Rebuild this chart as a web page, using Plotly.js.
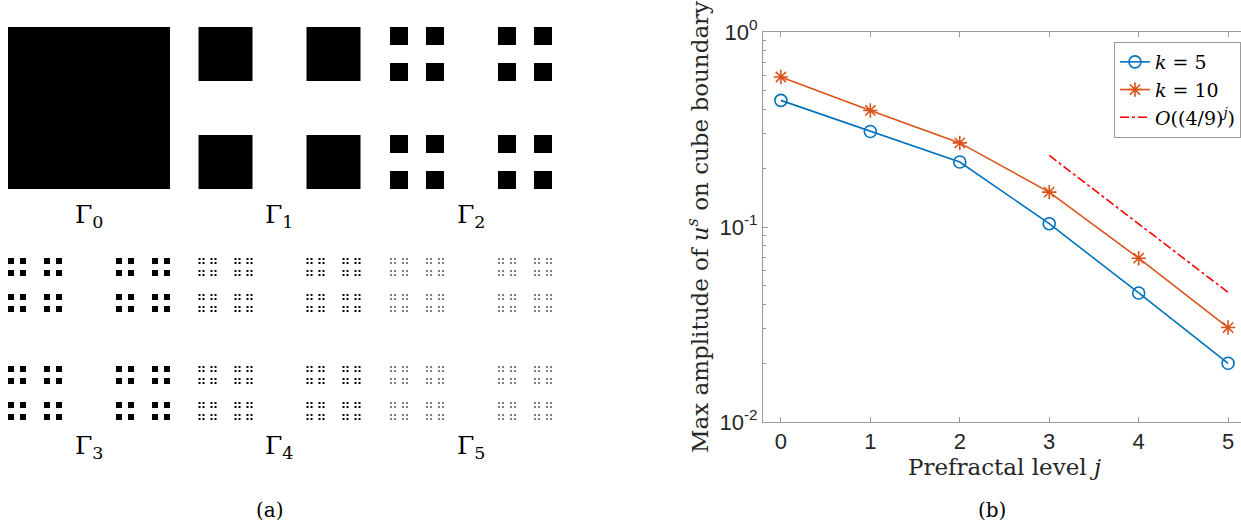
<!DOCTYPE html>
<html>
<head>
<meta charset="utf-8">
<script src="https://cdn.plot.ly/plotly-3.0.1.min.js"></script>
<style>
html, body { margin:0; padding:0; overflow:hidden; background:#fff; }
#chart { width:1250px; height:527px; }
</style>
</head>
<body>
<div id="chart"></div>
<script>

/* ==========================================
   DATA
========================================== */

const levels = [0, 1, 2, 3, 4, 5];

const ampK5 = [0.446, 0.309, 0.2155, 0.104, 0.0459, 0.0200];

const ampK10 = [0.588, 0.396, 0.270, 0.151, 0.0692, 0.0305];

const rateLevels = [3, 4, 5];

const rateValues = [0.233, 0.1035, 0.0462];

const prefractalNames = ["Γ<sub>0</sub>", "Γ<sub>1</sub>", "Γ<sub>2</sub>",
                         "Γ<sub>3</sub>", "Γ<sub>4</sub>", "Γ<sub>5</sub>"];

const yTickVals = [0.01, 0.1, 1];

const yTickText = ["10<sup>-2</sup>", "10<sup>-1</sup>", "10<sup>0</sup>"];


/* ==========================================
   PAGE GEOMETRY (pixels)
========================================== */

const W = 1250;
const H = 527;

const cubeSize = 162;
const colLeft = [8, 198.5, 390];
const rowTop = [27, 258];


/* ==========================================
   CANTOR DUST SQUARES
========================================== */

function cantorSquares(x0, y0, size, level){

    if(level === 0){
        return [[x0, y0, size]];
    }

    const s = size / 3;
    let out = [];

    [0, 2].forEach(i=>{
        [0, 2].forEach(k=>{
            out = out.concat(cantorSquares(x0 + i*s, y0 + k*s, s, level - 1));
        });
    });

    return out;
}

function squareTrace(level){

    const col = level % 3;
    const row = Math.floor(level / 3);

    const sq = cantorSquares(colLeft[col], rowTop[row], cubeSize, level);

    let x = [];
    let y = [];

    sq.forEach(q=>{
        x.push(q[0], q[0] + q[2], q[0] + q[2], q[0], q[0], null);
        y.push(q[1], q[1], q[1] + q[2], q[1] + q[2], q[1], null);
    });

    return {
        x:x,
        y:y,
        xaxis:"x2",
        yaxis:"y2",
        type:"scatter",
        mode:"none",
        fill:"toself",
        fillcolor:"#000",
        hoverinfo:"skip",
        showlegend:false
    };
}


/* ==========================================
   TRACES
========================================== */

let traces = [];

levels.forEach(l=>{
    traces.push(squareTrace(l));
});

traces.push({
    x:levels,
    y:ampK5,
    type:"scatter",
    mode:"lines+markers",
    name:"<i>k</i> = 5",
    line:{color:"#0072BD", width:1.6},
    marker:{symbol:"circle-open", size:12, color:"#0072BD", line:{width:1.6, color:"#0072BD"}}
});

traces.push({
    x:levels,
    y:ampK10,
    type:"scatter",
    mode:"lines+markers",
    name:"<i>k</i> = 10",
    line:{color:"#D95319", width:1.6},
    marker:{symbol:"asterisk-open", size:12, color:"#D95319", line:{width:1.6, color:"#D95319"}}
});

traces.push({
    x:rateLevels,
    y:rateValues,
    type:"scatter",
    mode:"lines",
    name:"<i>O</i>((4/9)<sup><i>j</i></sup>)",
    line:{color:"#FF0000", width:1.6, dash:"dashdot"}
});


/* ==========================================
   ANNOTATIONS
========================================== */

const serif = "DejaVu Serif, serif";

let notes = [];

prefractalNames.forEach((name, l)=>{
    const col = l % 3;
    const row = Math.floor(l / 3);
    notes.push({
        xref:"x2", yref:"y2",
        x:colLeft[col] + cubeSize/2,
        y:rowTop[row] + cubeSize + 27,
        yanchor:"middle",
        text:name,
        showarrow:false,
        font:{family:serif, size:25, color:"#000"}
    });
});

notes.push({
    xref:"paper", yref:"paper",
    x:270/W, y:1 - 510/H,
    xanchor:"center", yanchor:"middle",
    text:"(a)", showarrow:false,
    font:{family:serif, size:20, color:"#000"}
});

notes.push({
    xref:"paper", yref:"paper",
    x:992/W, y:1 - 510/H,
    xanchor:"center", yanchor:"middle",
    text:"(b)", showarrow:false,
    font:{family:serif, size:20, color:"#000"}
});


/* ==========================================
   LAYOUT
========================================== */

const axisGrey = "#9a9a9a";
const tickFont = {family:"Liberation Sans, Arial, sans-serif", size:22, color:"#262626"};

const layout = {
    width:W,
    height:H,
    margin:{l:0, r:0, t:0, b:0},
    paper_bgcolor:"#fff",
    plot_bgcolor:"#fff",
    showlegend:true,
    xaxis:{
        domain:[763/W, 1246/W],
        range:[-0.2, 5.2],
        tickvals:levels,
        ticks:"inside",
        ticklen:5,
        tickcolor:axisGrey,
        showline:true,
        linecolor:axisGrey,
        linewidth:1,
        mirror:"ticks",
        showgrid:false,
        zeroline:false,
        tickfont:tickFont,
        title:{
            text:"Prefractal level <i>j</i>",
            font:{family:serif, size:23, color:"#262626"},
            standoff:4
        }
    },
    yaxis:{
        domain:[1 - 422/H, 1 - 32/H],
        type:"log",
        range:[-2, 0],
        tickvals:yTickVals,
        ticktext:yTickText,
        ticks:"inside",
        ticklen:5,
        tickcolor:axisGrey,
        minor:{
            ticks:"inside",
            ticklen:3,
            tickcolor:axisGrey,
            dtick:"D1",
            showgrid:false
        },
        showline:true,
        linecolor:axisGrey,
        linewidth:1,
        mirror:"ticks",
        showgrid:false,
        zeroline:false,
        tickfont:tickFont,
        title:{
            text:"Max amplitude of <i>u</i><sup><i>s</i></sup> on cube boundary",
            font:{family:serif, size:23, color:"#262626"},
            standoff:4
        }
    },
    xaxis2:{
        domain:[0, 600/W],
        range:[0, 600],
        anchor:"y2",
        visible:false,
        fixedrange:true
    },
    yaxis2:{
        domain:[0, 1],
        range:[H, 0],
        anchor:"x2",
        visible:false,
        fixedrange:true
    },
    legend:{
        x:1114/W,
        y:1 - 42/H,
        xanchor:"left",
        yanchor:"top",
        bgcolor:"#fff",
        bordercolor:axisGrey,
        borderwidth:1,
        font:{family:serif, size:19, color:"#000"},
        tracegroupgap:0,
        itemwidth:30
    },
    annotations:notes
};


/* ==========================================
   DRAW
========================================== */

Plotly.newPlot("chart", traces, layout, {staticPlot:true});

</script>
</body>
</html>
